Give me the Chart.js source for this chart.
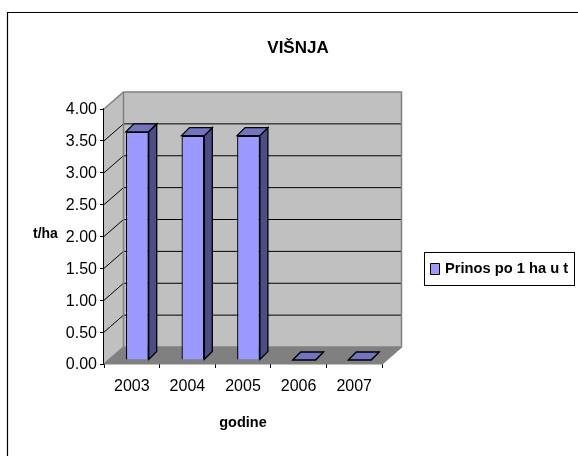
<!DOCTYPE html>
<html>
<head>
<meta charset="utf-8">
<script src="https://cdn.jsdelivr.net/npm/chart.js@4"></script>
<style>
html, body { margin: 0; padding: 0; background: #fff; }
#wrap { width: 578px; height: 456px; }
</style>
</head>
<body>
<div id="wrap"><canvas id="myChart" width="578" height="456"></canvas></div>
<script>
var years = ['2003', '2004', '2005', '2006', '2007'];
var prinos = [3.58, 3.52, 3.52, 0, 0];
var yTicks = [0, 0.5, 1, 1.5, 2, 2.5, 3, 3.5, 4];
var seriesName = 'Prinos po 1 ha u t';
var chartTitle = 'VIŠNJA';
var yTitle = 't/ha';
var xTitle = 'godine';

var font = '"Liberation Sans", Arial, sans-serif';

function poly(ctx, pts, fill, stroke, lw) {
    ctx.beginPath();
    ctx.moveTo(pts[0][0], pts[0][1]);
    for (var i = 1; i < pts.length; i++) ctx.lineTo(pts[i][0], pts[i][1]);
    ctx.closePath();
    ctx.fillStyle = fill;
    ctx.fill();
    if (stroke) {
        ctx.strokeStyle = stroke;
        ctx.lineWidth = lw || 1;
        ctx.stroke();
    }
}

// walls, floor and gridlines of the old 3D look
var walls = {
    id: 'walls',
    beforeDatasetsDraw: function (chart) {
        var ctx = chart.ctx, a = chart.chartArea, y = chart.scales.y;
        var dx = 19.5, dy = -17;
        ctx.save();
        poly(ctx, [[a.left, a.top], [a.left + dx, a.top + dy], [a.left + dx, a.bottom + dy], [a.left, a.bottom]], '#c0c0c0');
        poly(ctx, [[a.left + dx, a.top + dy], [a.right + dx, a.top + dy], [a.right + dx, a.bottom + dy], [a.left + dx, a.bottom + dy]], '#c0c0c0');
        poly(ctx, [[a.left, a.bottom], [a.left + dx, a.bottom + dy], [a.right + dx, a.bottom + dy], [a.right, a.bottom]], '#808080');
        ctx.strokeStyle = '#000';
        ctx.lineWidth = 1;
        yTicks.forEach(function (v) {
            if (v === 0 || v === 4) return;
            var py = y.getPixelForValue(v);
            ctx.beginPath();
            ctx.moveTo(a.left, py);
            ctx.lineTo(a.left + dx, py + dy);
            ctx.lineTo(a.right + dx, py + dy);
            ctx.stroke();
        });
        ctx.strokeStyle = '#808080';
        ctx.lineWidth = 1.5;
        ctx.beginPath();
        ctx.moveTo(a.left, a.top);
        ctx.lineTo(a.left + dx, a.top + dy);
        ctx.lineTo(a.right + dx, a.top + dy);
        ctx.lineTo(a.right + dx, a.bottom + dy);
        ctx.lineTo(a.right, a.bottom);
        ctx.moveTo(a.left + dx, a.top + dy);
        ctx.lineTo(a.left + dx, a.bottom + dy);
        ctx.lineTo(a.left, a.bottom);
        ctx.moveTo(a.left + dx, a.bottom + dy);
        ctx.lineTo(a.right + dx, a.bottom + dy);
        ctx.stroke();
        ctx.restore();
        // bars sit in the middle of the floor depth
        ctx.save();
        ctx.translate(5.5, -4);
    },
    afterDatasetsDraw: function (chart) {
        var ctx = chart.ctx, d = 8;
        chart.getDatasetMeta(0).data.forEach(function (bar) {
            var l = bar.x - bar.width / 2, r = bar.x + bar.width / 2, t = bar.y, b = bar.base;
            poly(ctx, [[r, t], [r + d, t - d], [r + d, b - d], [r, b]], '#4d4d86', '#000', 1.3);
            poly(ctx, [[l, t], [l + d, t - d], [r + d, t - d], [r, t]], '#7373bf', '#000', 1.3);
        });
        ctx.restore();
    },
    afterDraw: function (chart) {
        var ctx = chart.ctx;
        ctx.save();
        // frame, only top and left sides show
        ctx.strokeStyle = '#000';
        ctx.lineWidth = 1.2;
        ctx.beginPath();
        ctx.moveTo(7.5, 456);
        ctx.lineTo(7.5, 12.5);
        ctx.lineTo(578, 12.5);
        ctx.stroke();
        // y title stays horizontal
        ctx.fillStyle = '#000';
        ctx.font = 'bold 14px ' + font;
        ctx.textAlign = 'left';
        ctx.textBaseline = 'middle';
        ctx.fillText(yTitle, 33, 234);
        // legend
        ctx.lineWidth = 1;
        ctx.strokeRect(424.5, 252.5, 150, 33);
        poly(ctx, [[430.5, 263.5], [439.5, 263.5], [439.5, 274.5], [430.5, 274.5]], '#9999ff', '#000', 1);
        ctx.fillStyle = '#000';
        ctx.font = 'bold 14.7px ' + font;
        ctx.fillText(seriesName, 445, 269);
        ctx.restore();
    }
};

var ctx = document.getElementById('myChart').getContext('2d');
var myChart = new Chart(ctx, {
    type: 'bar',
    data: {
        labels: years,
        datasets: [{
            label: seriesName,
            data: prinos,
            backgroundColor: '#9999ff',
            borderColor: '#000',
            borderWidth: 1.3,
            barPercentage: 0.41,
            categoryPercentage: 1
        }]
    },
    options: {
        responsive: false,
        animation: false,
        layout: { padding: { left: 44, right: 196, top: 109, bottom: 20 } },
        plugins: {
            legend: { display: false },
            tooltip: { enabled: false },
            title: { display: false }
        },
        scales: {
            x: {
                afterFit: function (axis) { axis.height = 72; },
                grid: { drawOnChartArea: false, color: '#000', tickLength: 4 },
                border: { color: '#000', width: 1.3 },
                ticks: { color: '#000', font: { family: font, size: 16 }, padding: 9, maxRotation: 0 },
                title: { display: true, text: xTitle, color: '#000', font: { family: font, size: 14.5, weight: 'bold' } }
            },
            y: {
                min: 0,
                max: 4,
                afterFit: function (axis) { axis.width = 60; },
                afterBuildTicks: function (axis) {
                    axis.ticks = yTicks.map(function (v) { return { value: v }; });
                },
                grid: { drawOnChartArea: false, color: '#000', tickLength: 4 },
                border: { color: '#000', width: 1.3 },
                ticks: {
                    color: '#000',
                    font: { family: font, size: 16 },
                    padding: 3,
                    labelOffset: 1,
                    callback: function (v) { return v.toFixed(2); }
                }
            }
        }
    },
    plugins: [walls, {
        id: 'heading',
        afterDraw: function (chart) {
            var c = chart.ctx;
            c.save();
            c.fillStyle = '#000';
            c.font = 'bold 17px ' + font;
            c.textAlign = 'center';
            c.textBaseline = 'middle';
            c.fillText(chartTitle, 298, 48);
            c.restore();
        }
    }]
});
</script>
</body>
</html>
